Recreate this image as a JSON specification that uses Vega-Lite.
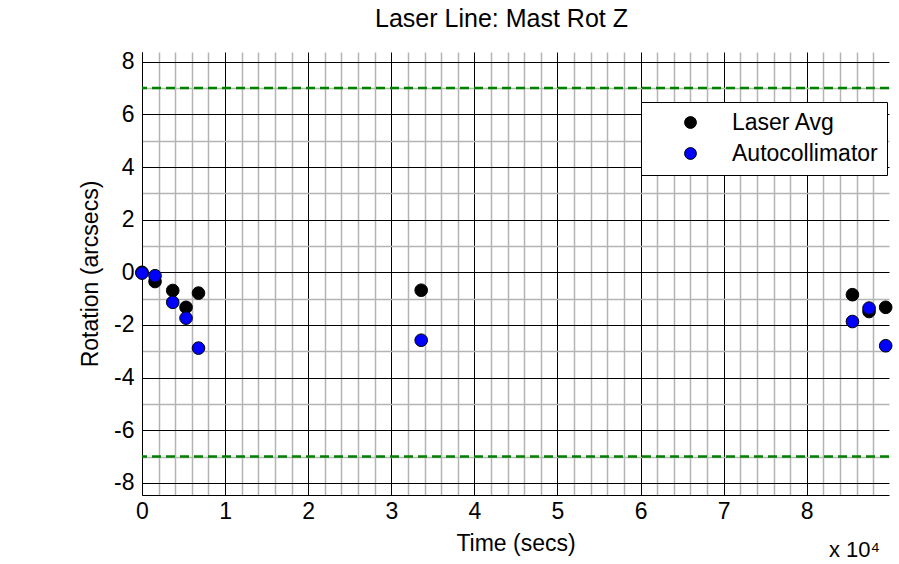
{
  "$schema": "https://vega.github.io/schema/vega-lite/v6.json",
  "width": 747,
  "height": 443,
  "autosize": {"type": "none"},
  "padding": {"left": 142, "top": 52, "right": 10, "bottom": 69},
  "background": "white",
  "title": {
    "text": "Laser Line: Mast Rot Z",
    "fontSize": 25,
    "fontWeight": "normal",
    "font": "Liberation Sans",
    "color": "black",
    "offset": 19,
    "dx": -14
  },
  "config": {
    "view": {"stroke": null},
    "font": "Liberation Sans",
    "axis": {
      "labelFont": "Liberation Sans",
      "titleFont": "Liberation Sans",
      "labelFontSize": 23,
      "titleFontSize": 23,
      "titleFontWeight": "normal",
      "labelColor": "black",
      "titleColor": "black",
      "domainColor": "black",
      "domainWidth": 1,
      "ticks": false,
      "grid": true,
      "gridOpacity": 1,
      "labelOverlap": false,
      "tickCount": 200
    }
  },
  "layer": [
    {
      "data": {"values": [{"limit": 7}, {"limit": -7}]},
      "mark": {"type": "rule", "color": "#008000", "strokeWidth": 2.5, "strokeDash": [9, 5]},
      "encoding": {
        "y": {"field": "limit", "type": "quantitative", "scale": {"domain": [-8.46, 8.37], "nice": false, "zero": false}}
      }
    },
    {
      "data": {
        "values": [
          {"series": "Laser Avg", "time": 0, "rot": 0.0},
          {"series": "Laser Avg", "time": 1570, "rot": -0.35},
          {"series": "Laser Avg", "time": 3700, "rot": -0.69},
          {"series": "Laser Avg", "time": 5300, "rot": -1.33},
          {"series": "Laser Avg", "time": 6800, "rot": -0.79},
          {"series": "Laser Avg", "time": 33600, "rot": -0.68},
          {"series": "Laser Avg", "time": 85500, "rot": -0.85},
          {"series": "Laser Avg", "time": 87500, "rot": -1.49},
          {"series": "Laser Avg", "time": 89500, "rot": -1.33},
          {"series": "Autocollimator", "time": 0, "rot": -0.03},
          {"series": "Autocollimator", "time": 1570, "rot": -0.13},
          {"series": "Autocollimator", "time": 3700, "rot": -1.14},
          {"series": "Autocollimator", "time": 5300, "rot": -1.74},
          {"series": "Autocollimator", "time": 6800, "rot": -2.88},
          {"series": "Autocollimator", "time": 33600, "rot": -2.58},
          {"series": "Autocollimator", "time": 85500, "rot": -1.87},
          {"series": "Autocollimator", "time": 87500, "rot": -1.36},
          {"series": "Autocollimator", "time": 89500, "rot": -2.79}
        ]
      },
      "mark": {"type": "point", "filled": true, "shape": "circle", "size": 160, "stroke": "black", "strokeWidth": 1, "opacity": 1},
      "encoding": {
        "x": {
          "field": "time",
          "type": "quantitative",
          "scale": {"domain": [0, 89900], "nice": false, "zero": false},
          "axis": {
            "title": "Time (secs)",
            "tickCount": 200,
            "values": [0,2000,4000,6000,8000,10000,12000,14000,16000,18000,20000,22000,24000,26000,28000,30000,32000,34000,36000,38000,40000,42000,44000,46000,48000,50000,52000,54000,56000,58000,60000,62000,64000,66000,68000,70000,72000,74000,76000,78000,80000,82000,84000,86000,88000],
            "labelExpr": "datum.value % 10000 === 0 ? '' + (datum.value / 10000) : ''",
            "gridColor": {"condition": {"test": "datum.value % 10000 === 0", "value": "black"}, "value": "#b4b4b4"},
            "gridWidth": {"condition": {"test": "datum.value % 10000 === 0", "value": 1}, "value": 1.5},
            "labelPadding": 5,
            "titlePadding": 9,
            "labelFlush": false
          }
        },
        "y": {
          "field": "rot",
          "type": "quantitative",
          "scale": {"domain": [-8.46, 8.37], "nice": false, "zero": false},
          "axis": {
            "title": "Rotation (arcsecs)",
            "tickCount": 200,
            "values": [-8,-7,-6,-5,-4,-3,-2,-1,0,1,2,3,4,5,6,7,8],
            "labelExpr": "datum.value % 2 === 0 ? '' + datum.value : ''",
            "gridColor": {"condition": {"test": "datum.value % 2 === 0", "value": "black"}, "value": "#b4b4b4"},
            "gridWidth": {"condition": {"test": "datum.value % 2 === 0", "value": 1}, "value": 1.5},
            "labelPadding": 8,
            "titlePadding": 11,
            "labelFlush": false
          }
        },
        "color": {
          "field": "series",
          "type": "nominal",
          "scale": {"domain": ["Laser Avg", "Autocollimator"], "range": ["black", "#0000ff"]},
          "legend": {
            "title": null,
            "orient": "none",
            "legendX": 499,
            "legendY": 50,
            "padding": 9,
            "strokeColor": "black",
            "fillColor": "white",
            "symbolType": "circle",
            "symbolSize": 140,
            "symbolStrokeColor": "black",
            "symbolStrokeWidth": 1,
            "symbolOffset": 29,
            "labelOffset": 30,
            "labelFontSize": 23,
            "labelFont": "Liberation Sans",
            "labelColor": "black",
            "labelLimit": 300,
            "rowPadding": 7
          }
        }
      }
    },
    {
      "data": {"values": [{"note": "x 10⁴", "time": 89900, "rot": -8.46}]},
      "mark": {"type": "text", "align": "right", "baseline": "alphabetic", "fontSize": 22, "font": "Liberation Sans", "color": "black", "dx": -9, "dy": 62},
      "encoding": {
        "x": {"field": "time", "type": "quantitative"},
        "y": {"field": "rot", "type": "quantitative"},
        "text": {"field": "note"}
      }
    }
  ]
}
